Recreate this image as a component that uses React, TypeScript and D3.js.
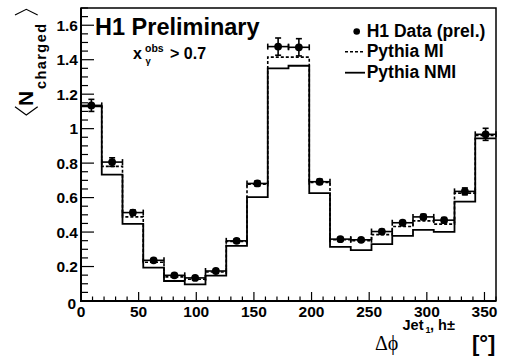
import React from "react";
import * as d3 from "d3";

const binLow = [0, 18, 36, 54, 72, 90, 108, 126, 144, 162, 180, 198, 216, 234, 252, 270, 288, 306, 324, 342];
const binWidth = 18;
const dataValues = [1.135, 0.806, 0.513, 0.236, 0.149, 0.134, 0.174, 0.349, 0.682, 1.476, 1.472, 0.692, 0.359, 0.355, 0.403, 0.454, 0.488, 0.469, 0.636, 0.967];
const dataErrors = [0.035, 0.025, 0.015, 0.01, 0.01, 0.01, 0.01, 0.012, 0.015, 0.05, 0.05, 0.015, 0.01, 0.01, 0.012, 0.012, 0.015, 0.015, 0.02, 0.035];
const mcMI = [1.13, 0.781, 0.488, 0.225, 0.14, 0.126, 0.168, 0.345, 0.678, 1.415, 1.415, 0.688, 0.355, 0.35, 0.385, 0.432, 0.465, 0.446, 0.626, 0.96];
const mcNMI = [1.13, 0.733, 0.448, 0.194, 0.116, 0.097, 0.147, 0.32, 0.603, 1.35, 1.365, 0.626, 0.314, 0.295, 0.33, 0.378, 0.413, 0.401, 0.577, 0.944];
const xTicks = [0, 50, 100, 150, 200, 250, 300, 350];
const yTicks = [0, 0.2, 0.4, 0.6, 0.8, 1, 1.2, 1.4, 1.6];
const yTickLabels = ["0", "0.2", "0.4", "0.6", "0.8", "1", "1.2", "1.4", "1.6"];

const W = 508, H = 356;
const L = 81, R = 496, T = 8, B = 301;
const SANS = "'Liberation Sans', Arial, Helvetica, sans-serif";
const SERIF = "'Liberation Serif', 'DejaVu Serif', serif";

export default function App() {
  const x = d3.scaleLinear().domain([0, 360]).range([L, R]);
  const y = d3.scaleLinear().domain([0, 1.7]).range([B, T]);

  const stepPath = (vals: number[]) => {
    let p = "";
    vals.forEach((v, i) => {
      const x0 = x(binLow[i]);
      const x1 = x(binLow[i] + binWidth);
      p += (i === 0 ? `M${x0},${y(v)}` : `L${x0},${y(v)}`) + `L${x1},${y(v)}`;
    });
    return p;
  };

  const yMinor = d3.range(0, 1.7001, 0.05);
  const xMinor = d3.range(0, 360.001, 10);

  return (
    <svg width={W} height={H} style={{ position: "absolute", left: 0, top: 0, background: "#fff" }} fontFamily={SANS} fontWeight="bold">
      <rect x={0} y={0} width={W} height={H} fill="#fff" />
      {/* histograms */}
      <path d={stepPath(mcNMI)} fill="none" stroke="#000" strokeWidth={1.8} />
      <path d={stepPath(mcMI)} fill="none" stroke="#000" strokeWidth={1.6} strokeDasharray="3,2" />
      {/* data */}
      {dataValues.map((v, i) => {
        const cx = x(binLow[i] + binWidth / 2);
        const cy = y(v);
        const x0 = x(binLow[i]);
        const x1 = x(binLow[i] + binWidth);
        const yt = y(v + dataErrors[i]);
        const yb = y(v - dataErrors[i]);
        return (
          <g key={i} stroke="#000" strokeWidth={1.6}>
            <line x1={x0} x2={x1} y1={cy} y2={cy} />
            <line x1={x0} x2={x0} y1={cy - 3} y2={cy + 3} />
            <line x1={x1} x2={x1} y1={cy - 3} y2={cy + 3} />
            <line x1={cx} x2={cx} y1={yt} y2={yb} />
            <line x1={cx - 3} x2={cx + 3} y1={yt} y2={yt} />
            <line x1={cx - 3} x2={cx + 3} y1={yb} y2={yb} />
            <circle cx={cx} cy={cy} r={3.9} fill="#000" stroke="none" />
          </g>
        );
      })}
      {/* frame */}
      <rect x={L} y={T} width={R - L} height={B - T} fill="none" stroke="#000" strokeWidth={1.5} />
      <line x1={L} x2={L} y1={T} y2={B + 1} stroke="#000" strokeWidth={2} />
      <line x1={L - 1} x2={R} y1={B} y2={B} stroke="#000" strokeWidth={2} />
      {/* y ticks */}
      {yMinor.map((v, i) => {
        const major = Math.abs(v / 0.2 - Math.round(v / 0.2)) < 1e-6;
        return <line key={"ym" + i} x1={L} x2={L + (major ? 13 : 7)} y1={y(v)} y2={y(v)} stroke="#000" strokeWidth={1.2} />;
      })}
      {xMinor.map((v, i) => {
        const major = Math.abs(v / 50 - Math.round(v / 50)) < 1e-6;
        return <line key={"xm" + i} x1={x(v)} x2={x(v)} y1={B} y2={B - (major ? 9 : 4.5)} stroke="#000" strokeWidth={1.2} />;
      })}
      {/* y labels */}
      {yTicks.map((v, i) => (
        <text key={"yl" + i} x={v === 0 ? 76 : 78} y={y(v) + (v === 0 ? 7.5 : 5.5)} fontSize={15.5} textAnchor="end">
          {yTickLabels[i]}
        </text>
      ))}
      {/* x labels */}
      {xTicks.map((v, i) => (
        <text key={"xl" + i} x={x(v)} y={316.7} fontSize={15.5} textAnchor="middle">
          {v}
        </text>
      ))}
      {/* y title */}
      <g transform="translate(33,106) rotate(-90)">
        <text x={0} y={0} fontSize={21}>N</text>
        <text x={17} y={12.5} fontSize={14.5} textLength={65} lengthAdjust="spacing">charged</text>
      </g>
      <polyline points="15,106.7 26.3,115 37.7,106.7" fill="none" stroke="#000" strokeWidth={1.2} />
      <polyline points="15,15 26.3,9.3 37.7,15" fill="none" stroke="#000" strokeWidth={1.2} />
      {/* x title */}
      <text x={375} y={350} fontSize={20} fontFamily={SERIF} fontWeight="normal">Δϕ</text>
      <text x={402.5} y={330} fontSize={14.5}>Jet</text>
      <text x={425.5} y={333} fontSize={9}>1</text>
      <text x={430} y={330} fontSize={14.5}>, h±</text>
      <text x={472} y={351} fontSize={22}>[°]</text>
      {/* H1 Preliminary */}
      <text x={95} y={35} fontSize={23.5}>H1 Preliminary</text>
      <text x={133} y={59.3} fontSize={16}>x</text>
      <text x={145} y={52.3} fontSize={10.5}>obs</text>
      <text x={145.5} y={64} fontSize={9.5}>γ</text>
      <text x={170} y={59.3} fontSize={16}>&gt; 0.7</text>
      {/* legend */}
      <circle cx={356.7} cy={31.5} r={3.3} fill="#000" />
      <text x={366.7} y={36.7} fontSize={17.5}>H1 Data (prel.)</text>
      <line x1={345} x2={365} y1={51.7} y2={51.7} stroke="#000" strokeWidth={1.5} strokeDasharray="3,2" />
      <text x={366.7} y={57.2} fontSize={17.5}>Pythia MI</text>
      <line x1={345} x2={365} y1={72.7} y2={72.7} stroke="#000" strokeWidth={1.8} />
      <text x={366.7} y={78} fontSize={17.5}>Pythia NMI</text>
    </svg>
  );
}
